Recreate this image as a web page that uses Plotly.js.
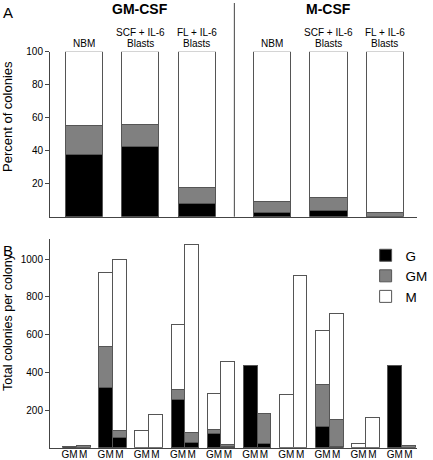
<!DOCTYPE html>
<html>
<head>
<meta charset="utf-8">
<script src="https://cdn.plot.ly/plotly-3.0.1.min.js"></script>
<style>html,body{margin:0;padding:0;background:#fff;}#chart{width:433px;height:460px;}</style>
</head>
<body>
<div id="chart"></div>
<script>
// ---------- Panel A data (percent of colonies) ----------
var topGroups = ["GM-CSF", "M-CSF"];
var topCatLines = [["NBM"], ["SCF + IL-6", "Blasts"], ["FL + IL-6", "Blasts"],
                   ["NBM"], ["SCF + IL-6", "Blasts"], ["FL + IL-6", "Blasts"]];
var topCatGroup = [0, 0, 0, 1, 1, 1];
var topG  = [38, 42.4, 8.1, 2.6, 3.5, 0];
var topGM = [17, 13.6, 9.7, 6.5, 8.0, 2.6];
var topM  = [45, 44.0, 82.2, 90.9, 88.5, 97.4];
var topTicks = [20, 40, 60, 80, 100];

// ---------- Panel B data (total colonies per colony) ----------
var barLabels = ["GM", "M"];
var gmBarG  = [6, 317, 0, 256, 73, 438, 0, 115, 0, 438];
var gmBarGM = [0, 222, 0, 53, 24, 0, 0, 219, 0, 0];
var gmBarM  = [0, 392, 89, 345, 193, 0, 281, 285, 22, 0];
var mBarG   = [0, 53, 0, 27, 8, 23, 0, 7, 0, 0];
var mBarGM  = [12, 39, 0, 55, 7, 156, 0, 142, 0, 12];
var mBarM   = [0, 906, 177, 994, 441, 4, 912, 561, 158, 0];
var botTicks = [200, 400, 600, 800, 1000];

var seriesNames = ["G", "GM", "M"];
var seriesColors = ["#000000", "#808080", "#ffffff"];

// ---------- positions ----------
var groupGap = 1.337;
var topX = topCatGroup.map(function (g, i) { return i + g * (groupGap - 1); });
var nGroups = gmBarG.length;
var half = 0.19;
var gmX = [], mX = [];
for (var g = 0; g < nGroups; g++) { gmX.push(g - half); mX.push(g + half); }
var botX = gmX.concat(mX);
var tickVals = [], tickText = [];
for (var g = 0; g < nGroups; g++) {
  tickVals.push(gmX[g]); tickText.push(barLabels[0]);
  tickVals.push(mX[g]); tickText.push(barLabels[1]);
}

var lineStyle = {color: "#555555", width: 1};
var font = "Liberation Sans, Arial, Helvetica, sans-serif";

var topSeries = [topG, topGM, topM];
var botSeries = [gmBarG.concat(mBarG), gmBarGM.concat(mBarGM), gmBarM.concat(mBarM)];

var data = [];
for (var s = 0; s < 3; s++) {
  data.push({
    type: "bar", name: seriesNames[s], x: topX, y: topSeries[s],
    width: 0.66, xaxis: "x", yaxis: "y", showlegend: false, legendgroup: seriesNames[s],
    marker: {color: seriesColors[s], line: lineStyle}, hoverinfo: "y"
  });
}
for (var s = 0; s < 3; s++) {
  data.push({
    type: "bar", name: seriesNames[s], x: botX, y: botSeries[s],
    width: 2 * half, xaxis: "x2", yaxis: "y2", showlegend: true, legendgroup: seriesNames[s],
    marker: {color: seriesColors[s], line: lineStyle}, hoverinfo: "y"
  });
}

var H = 460;
function py(pix) { return (H - pix) / H; }

var annotations = [];
// category labels above top bars (bottom-aligned lines)
topCatLines.forEach(function (lines, i) {
  for (var k = 0; k < lines.length; k++) {
    var fromBottom = lines.length - 1 - k;
    annotations.push({
      text: lines[k], x: topX[i], xref: "x", y: 1, yref: "y domain",
      xanchor: "center", yanchor: "bottom", showarrow: false,
      yshift: 1 + fromBottom * 11, font: {size: 10, color: "#000"}
    });
  }
});
// group headers centred over the middle condition of each group
topGroups.forEach(function (name, gi) {
  var idx = topCatGroup.indexOf(gi) + 1;
  annotations.push({
    text: "<b>" + name + "</b>", x: topX[idx], xref: "x", y: py(9), yref: "paper",
    xanchor: "center", yanchor: "middle", showarrow: false, font: {size: 14, color: "#000"}
  });
});
// panel letters
annotations.push({text: "A", x: 0, xref: "paper", xshift: 7.5 - 50, xanchor: "center", y: py(13), yref: "paper",
  yanchor: "middle", showarrow: false, font: {size: 15, color: "#000"}});
annotations.push({text: "B", x: 0, xref: "paper", xshift: 7.5 - 50, xanchor: "center", y: py(250), yref: "paper",
  yanchor: "middle", showarrow: false, font: {size: 15, color: "#000"}});
// y axis titles
annotations.push({text: "Percent of colonies", textangle: -90, x: 0, xref: "paper", xshift: -42,
  y: py(117), yref: "paper", xanchor: "center", yanchor: "middle", showarrow: false,
  font: {size: 13, color: "#000"}});
annotations.push({text: "Total colonies per colony", textangle: -90, x: 0, xref: "paper", xshift: -42,
  y: py(322), yref: "paper", xanchor: "center", yanchor: "middle", showarrow: false,
  font: {size: 12.5, color: "#000"}});

var dividerX = (topX[2] + topX[3]) / 2;

var layout = {
  width: 433, height: 460,
  margin: {l: 50, r: 3, t: 0, b: 0, pad: 0},
  paper_bgcolor: "#fff", plot_bgcolor: "#fff",
  font: {family: font, size: 10, color: "#000"},
  barmode: "stack", bargap: 0,
  showlegend: true,
  legend: {x: 0.86, xanchor: "left", y: py(240), yanchor: "top", traceorder: "normal",
    font: {size: 13.5, color: "#000"}, bgcolor: "rgba(0,0,0,0)", tracegroupgap: 0},
  xaxis: {domain: [0, 1], anchor: "y", range: [-0.6, 5.907], showline: true, linecolor: "#444",
    linewidth: 1, ticks: "", showticklabels: false, showgrid: false, zeroline: false, fixedrange: true},
  yaxis: {domain: [py(216.7), py(51.7)], anchor: "x", range: [0, 100], tickvals: topTicks,
    ticks: "outside", ticklen: 4, tickcolor: "#444", showline: true, linecolor: "#444", linewidth: 1,
    showgrid: false, zeroline: false, tickfont: {size: 10}, fixedrange: true},
  xaxis2: {domain: [0, 1], anchor: "y2", range: [-0.73, 9.425], showline: true, linecolor: "#444",
    linewidth: 1, ticks: "", tickvals: tickVals, ticktext: tickText, tickangle: 0, showgrid: false,
    zeroline: false, tickfont: {size: 10}, ticklabelstandoff: -3, fixedrange: true},
  yaxis2: {domain: [py(447.75), py(239)], anchor: "x2", range: [0, 1106], tickvals: botTicks,
    ticks: "outside", ticklen: 4, tickcolor: "#444", showline: true, linecolor: "#444", linewidth: 1,
    showgrid: false, zeroline: false, tickfont: {size: 10}, fixedrange: true},
  shapes: [{type: "line", xref: "x", yref: "paper", x0: dividerX, x1: dividerX,
    y0: py(216.7), y1: py(3), line: {color: "#444", width: 1}}],
  annotations: annotations
};

Plotly.newPlot("chart", data, layout, {displayModeBar: false, staticPlot: true});
</script>
</body>
</html>
